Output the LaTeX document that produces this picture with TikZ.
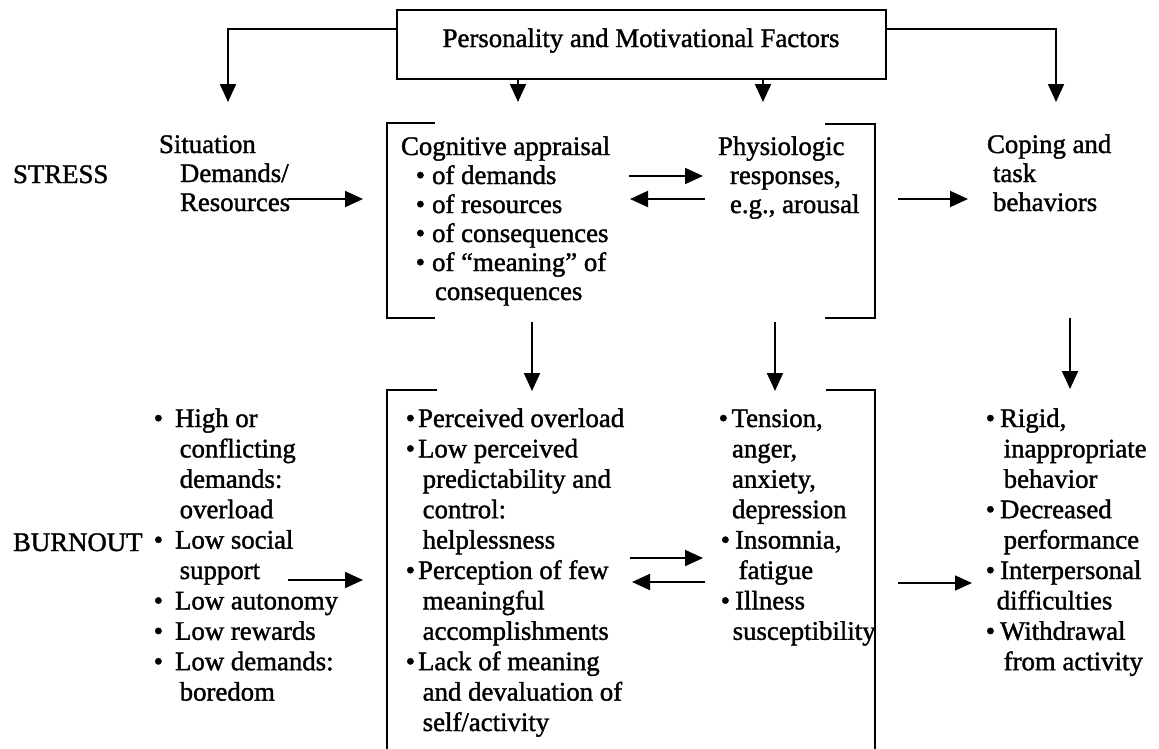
\documentclass[tikz,border=0pt]{standalone}
\usepackage{fontspec}
\setmainfont{Liberation Serif}[FakeBold=1.4]
\usetikzlibrary{arrows.meta,calc}
\newcommand\bul[1]{\textbullet\hspace*{#1}}
\newcommand\ind[1]{\hspace*{#1}}
\begin{document}
\begin{tikzpicture}[x=1pt,y=-1pt,
  line width=2pt,
  arr/.style={-{Triangle[length=18pt,width=16pt]}},
  thinarr/.style={line width=1.5pt,-{Triangle[length=17pt,width=15pt]}},
  txt/.style={anchor=base west,inner sep=0pt,outer sep=0pt,
    font=\fontsize{26.8}{29}\selectfont},
  txtb/.style={anchor=base west,inner sep=0pt,outer sep=0pt,
    font=\fontsize{26.8}{30.4}\selectfont},
  brk/.style={line width=2pt},
  ]
\useasboundingbox (0,0) rectangle (1159,748);
\clip (0,0) rectangle (1159,748);

% top box
\node[draw,line width=2.2pt,minimum width=489pt,minimum height=69pt,inner sep=0pt] (top) at (641.5,44.5) {};
\node[txt,anchor=base] (toptext) at (641,47) {Personality and Motivational Factors};

\coordinate (tSit) at (228,102);
\coordinate (tCog) at (518,102);
\coordinate (tPhy) at (763,102);
\coordinate (tCop) at (1056,102);
\draw[arr] ([yshift=15.5pt]top.west) -| (tSit);
\draw[arr] ([yshift=15.5pt]top.east) -| (tCop);
\draw[arr] (top.south -| tCog) -- (tCog);
\draw[arr] (top.south -| tPhy) -- (tPhy);

% STRESS row
\node[txt] (stress) at (13,183) {STRESS};
\node[txt] (sit) at (159,153) {\begin{tabular}[t]{@{}l@{}}Situation\\ \ind{21pt}Demands/\\ \ind{21pt}Resources\end{tabular}};
\node[txt] (cog) at (401,155) {\begin{tabular}[t]{@{}l@{}}Cognitive appraisal\\
 \ind{14.7pt}\bul{7pt}of demands\\
 \ind{14.7pt}\bul{7pt}of resources\\
 \ind{14.7pt}\bul{7pt}of consequences\\
 \ind{14.7pt}\bul{7pt}of ``meaning'' of\\
 \ind{34pt}consequences\end{tabular}};
\node[txt] (phy) at (718,155) {\begin{tabular}[t]{@{}l@{}}Physiologic\\ \ind{12pt}responses,\\ \ind{12pt}e.g., arousal\end{tabular}};
\node[txt] (cop) at (987,153) {\begin{tabular}[t]{@{}l@{}}Coping and\\ \ind{6pt}task\\ \ind{6pt}behaviors\end{tabular}};

% stress brackets
\draw[brk] (435,123) -- (387,123) -- (387,318) -- (435,318);
\draw[brk] (825,124) -- (875,124) -- (875,318) -- (825,318);

% stress arrows
\coordinate (sitE) at (288,199); \coordinate (cogW) at (363,199);
\coordinate (cogE1) at (629,176); \coordinate (phyW1) at (703,176);
\coordinate (phyW2) at (705,199); \coordinate (cogE2) at (630,199);
\coordinate (phyE) at (898,199); \coordinate (copW) at (968,199);
\draw[arr] (sitE) -- (cogW);
\draw[arr] (cogE1) -- (phyW1);
\draw[arr] (phyW2) -- (cogE2);
\draw[arr] (phyE) -- (copW);

% vertical arrows
\coordinate (cogS) at (532,322); \coordinate (bcogN) at (532,391);
\coordinate (phyS) at (775,322); \coordinate (bphyN) at (775,391);
\coordinate (copS) at (1070,318); \coordinate (bcopN) at (1070,389);
\draw[arr] (cogS) -- (bcogN);
\draw[arr] (phyS) -- (bphyN);
\draw[arr] (copS) -- (bcopN);

% BURNOUT row
\node[txtb] (burn) at (13,551) {BURNOUT};
\node[txtb] (bsit) at (153.7,427) {\begin{tabular}[t]{@{}l@{}}\bul{12pt}High or\\
 \ind{26pt}conflicting\\
 \ind{26pt}demands:\\
 \ind{26pt}overload\\
 \bul{12pt}Low social\\
 \ind{26pt}support\\
 \bul{12pt}Low autonomy\\
 \bul{12pt}Low rewards\\
 \bul{12pt}Low demands:\\
 \ind{26pt}boredom\end{tabular}};
\node[txtb] (bcog) at (405.7,427) {\begin{tabular}[t]{@{}l@{}}\bul{3pt}Perceived overload\\
 \bul{3pt}Low perceived\\
 \ind{17pt}predictability and\\
 \ind{17pt}control:\\
 \ind{17pt}helplessness\\
 \bul{3pt}Perception of few\\
 \ind{17pt}meaningful\\
 \ind{17pt}accomplishments\\
 \bul{3pt}Lack of meaning\\
 \ind{17pt}and devaluation of\\
 \ind{17pt}self/activity\end{tabular}};
\node[txtb] (bphy) at (718.7,427) {\begin{tabular}[t]{@{}l@{}}\bul{3.5pt}Tension,\\
 \ind{13.3pt}anger,\\
 \ind{13.3pt}anxiety,\\
 \ind{13.3pt}depression\\
 \ind{2pt}\bul{5pt}Insomnia,\\
 \ind{20pt}fatigue\\
 \ind{2pt}\bul{5pt}Illness\\
 \ind{14pt}susceptibility\end{tabular}};
\node[txtb] (bcop) at (985.7,427) {\begin{tabular}[t]{@{}l@{}}\bul{5pt}Rigid,\\
 \ind{18pt}inappropriate\\
 \ind{18pt}behavior\\
 \bul{5pt}Decreased\\
 \ind{18pt}performance\\
 \bul{5pt}Interpersonal\\
 \ind{11pt}difficulties\\
 \bul{5pt}Withdrawal\\
 \ind{18pt}from activity\end{tabular}};

% burnout brackets
\draw[brk] (437,390) -- (387,390) -- (387,752);
\draw[brk] (826,390) -- (875,390) -- (875,752);

% burnout arrows
\coordinate (bsitE) at (288,580); \coordinate (bcogW) at (363,580);
\coordinate (bcogE1) at (630,558); \coordinate (bphyW1) at (703,558);
\coordinate (bphyW2) at (705,582); \coordinate (bcogE2) at (632,582);
\coordinate (bphyE) at (898,583); \coordinate (bcopW) at (972,583);
\draw[arr] (bsitE) -- (bcogW);
\draw[arr] (bcogE1) -- (bphyW1);
\draw[arr] (bphyW2) -- (bcogE2);
\draw[thinarr] (bphyE) -- (bcopW);
\end{tikzpicture}
\end{document}
